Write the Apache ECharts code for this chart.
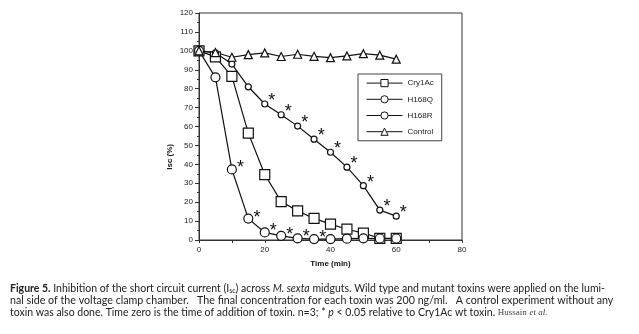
<!DOCTYPE html>
<html>
<head>
    <meta charset="utf-8">
    <script type="text/javascript" src="https://cdn.jsdelivr.net/npm/echarts@6/dist/echarts.min.js"></script>
    <title>Figure 5</title>
</head>
<body style="margin:0;background:#fff;">
    <div id="container" style="width:639px;height:334px;"></div>
    <script type="text/javascript">
    // time points (min)
    var times = [0, 5, 10, 15, 20, 25, 30, 35, 40, 45, 50, 55, 60];
    // Isc (%)
    var cry1Ac  = [100, 96.8, 86.5, 56.5, 34.6, 20.3, 15.4, 11.4, 8.4, 5.7, 3.6, 0.9, 0.9];
    var h168Q   = [100, 99, 93, 81, 71.9, 66.2, 60.2, 53.3, 46.4, 38.5, 28.7, 15.8, 12.6];
    var h168R   = [100, 86, 37.3, 11.3, 4, 2.2, 0.9, 0.5, 0.5, 0.7, 0.9, 0.8, 0.8];
    var control = [100, 99.1, 96.6, 98, 98.9, 97, 98.2, 97.1, 96.4, 97.3, 98.5, 97.7, 95.6];
    // points marked with * (p < 0.05)
    var starQ = [20, 25, 30, 35, 40, 45, 50, 55, 60];
    var starR = [10, 15, 20, 25, 30, 35];
    var xTicks = [0, 20, 40, 60, 80];
    var yTicks = [0, 10, 20, 30, 40, 50, 60, 70, 80, 90, 100, 110, 120];

    var axisFont = 'Liberation Sans Narrow, Arial, sans-serif';
    var capFont = 'Lato, "Open Sans", sans-serif';

    function toPoints(vals, stars) {
        return times.map(function (t, i) {
            var p = { value: [t, vals[i]] };
            if (stars && stars.indexOf(t) >= 0) {
                p.label = { show: true };
            }
            return p;
        });
    }

    function makeSeries(name, vals, symbol, size, stars, starOffset) {
        return {
            name: name,
            type: 'line',
            data: toPoints(vals, stars),
            symbol: symbol,
            symbolSize: size,
            showAllSymbol: true,
            lineStyle: { color: '#111', width: 1.2 },
            itemStyle: { color: '#fff', borderColor: '#111', borderWidth: 1.2 },
            label: {
                show: false,
                formatter: '*',
                position: 'right',
                distance: 1,
                offset: starOffset || [0, 0],
                fontSize: 18,
                color: '#111',
                fontFamily: 'Arial, sans-serif'
            },
            emphasis: { disabled: true },
            animation: false
        };
    }

    var myChart = echarts.init(document.getElementById('container'));

    var option = {
        backgroundColor: '#fff',
        animation: false,
        grid: {
            left: 199, right: 177, top: 13, bottom: 94,
            show: true, borderColor: '#333', borderWidth: 1
        },
        legend: {
            orient: 'vertical',
            left: 358, top: 74,
            width: 82,
            padding: [5, 8, 5, 8],
            itemWidth: 36, itemHeight: 9, itemGap: 8,
            borderColor: '#444', borderWidth: 1,
            backgroundColor: '#fff',
            data: ['Cry1Ac', 'H168Q', 'H168R', 'Control'],
            itemStyle: { color: '#fff', borderColor: '#111', borderWidth: 1 },
            lineStyle: { color: '#111', width: 1 },
            textStyle: { fontFamily: axisFont, fontSize: 8, color: '#222' }
        },
        xAxis: {
            type: 'value',
            min: 0, max: 80, interval: 20,
            axisLine: { lineStyle: { color: '#333' } },
            axisTick: { inside: false, length: 3, lineStyle: { color: '#333' } },
            minorTick: { show: true, splitNumber: 2, length: 3, lineStyle: { color: '#333' } },
            splitLine: { show: false },
            axisLabel: {
                margin: 6,
                fontFamily: axisFont, fontSize: 8, color: '#222',
                formatter: function (v) { return xTicks.indexOf(v) >= 0 ? v : ''; }
            },
            name: 'Time (min)',
            nameLocation: 'middle',
            nameGap: 20,
            nameTextStyle: { fontFamily: axisFont, fontSize: 8, color: '#111', fontWeight: 'bold' }
        },
        yAxis: {
            type: 'value',
            min: 0, max: 120, interval: 10,
            axisLine: { show: true, lineStyle: { color: '#333' } },
            axisTick: { length: 4, lineStyle: { color: '#333' } },
            minorTick: { show: true, splitNumber: 2, length: 2, lineStyle: { color: '#333' } },
            splitLine: { show: false },
            axisLabel: {
                margin: 6,
                fontFamily: axisFont, fontSize: 8, color: '#222',
                formatter: function (v) { return yTicks.indexOf(v) >= 0 ? v : ''; }
            }
        },
        graphic: [
            {
                type: 'text', left: 166, top: 144, rotation: Math.PI / 2,
                style: { text: 'Isc (%)', font: 'bold 8px ' + axisFont, fill: '#111' }
            },
            {
                type: 'text', left: 10, top: 283,
                style: {
                    text: '{b|Figure 5.} Inhibition of the short circuit current (I{s|sc}) across {i|M. sexta} midguts. Wild type and mutant toxins were applied on the lumi-',
                    font: '10.5px ' + capFont, fill: '#222',
                    rich: {
                        b: { font: 'bold 10.5px ' + capFont, fill: '#222' },
                        i: { font: 'italic 10.5px ' + capFont, fill: '#222' },
                        s: { font: '7px ' + capFont, fill: '#222', padding: [4, 0, 0, 0] }
                    }
                }
            },
            {
                type: 'text', left: 10, top: 295,
                style: {
                    text: 'nal side of the voltage clamp chamber.   The final concentration for each toxin was 200 ng/ml.   A control experiment without any',
                    font: '10.7px ' + capFont, fill: '#222'
                }
            },
            {
                type: 'text', left: 10, top: 307,
                style: {
                    text: 'toxin was also done. Time zero is the time of addition of toxin. n=3; * {i|p} < 0.05 relative to Cry1Ac wt toxin. {h|Hussain} {hi|et al.}',
                    font: '10.5px ' + capFont, fill: '#222',
                    rich: {
                        i: { font: 'italic 10.5px ' + capFont, fill: '#222' },
                        h: { font: '9px "Liberation Serif", serif', fill: '#444' },
                        hi: { font: 'italic 9px "Liberation Serif", serif', fill: '#444' }
                    }
                }
            }
        ],
        series: [
            makeSeries('Cry1Ac', cry1Ac, 'rect', 10),
            makeSeries('H168Q', h168Q, 'circle', 6, starQ, [-1, -3]),
            makeSeries('H168R', h168R, 'circle', 9, starR, [-1, -1]),
            makeSeries('Control', control, 'triangle', 8)
        ]
    };

    myChart.setOption(option);
    </script>
</body>
</html>
